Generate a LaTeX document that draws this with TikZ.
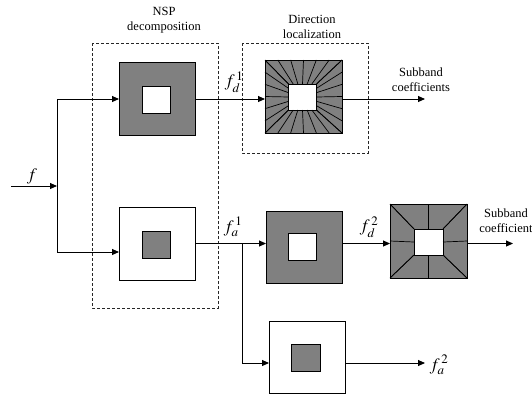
\documentclass[tikz,border=0pt]{standalone}
\usepackage{mathptmx}
\usepackage{fontspec}
\setmainfont{Liberation Serif}
\usetikzlibrary{arrows.meta,calc}

\tikzset{
  band/.style={draw, line width=0.9pt, outer sep=0pt, inner sep=0pt,
    minimum width=76pt, minimum height=73pt},
  hipass/.style={band, fill=gray},
  lopass/.style={band, fill=white},
  core/.style={draw, line width=0.9pt, outer sep=0pt, inner sep=0pt,
    minimum width=28pt, minimum height=27pt},
  frame/.style={draw=black!85, line width=0.8pt, dash pattern=on 3pt off 2pt},
  flow/.style={line width=0.9pt, -{Triangle[length=7pt,width=6pt]}},
  wedge/.style={line width=0.7pt},
  lbl/.style={font=\fontsize{12.5}{15}\selectfont, align=center, inner sep=0pt},
  sig/.style={font=\fontsize{17.5}{17.5}\selectfont, inner sep=1pt}
}

\begin{document}
\begin{tikzpicture}[x=1pt, y=-1pt]
  \useasboundingbox (0,0) rectangle (532,397);

  % dashed frames
  \draw[frame] (92,43) rectangle (218,308);
  \draw[frame] (242,43) rectangle (368,153);
  \node[lbl] (nsplbl) at (164,20) {NSP\\decomposition};
  \node[lbl] (dirlbl) at (312,27) {Direction\\localization};

  % first level
  \node[hipass] (nsphi) at (157,99) {};
  \node[core, fill=white] (nsphiin) at (156,100) {};
  \node[lopass] (nsplo) at (157,243.5) {};
  \node[core, fill=gray] (nsploin) at (156,244.5) {};

  % directional filter, 24 wedges
  \node[hipass, minimum width=77pt] (dira) at (303.5,96.5) {};
  \node[core, fill=white, minimum height=26pt] (dirain) at (302.5,97) {};
  \foreach \a/\b in {north west/north east, south west/south east,
                     north west/south west, north east/south east}
    \foreach \t in {0,0.1667,0.3333,0.5,0.6667,0.8333,1}
      \draw[wedge] ($(dira.\a)!\t!(dira.\b)$) -- ($(dirain.\a)!\t!(dirain.\b)$);

  % second level
  \node[hipass, minimum height=72pt] (hp2) at (304,247) {};
  \node[core, fill=white] (hp2in) at (302,247) {};
  \node[lopass, minimum height=72pt] (lp2) at (307,357) {};
  \node[core, fill=gray, minimum width=29pt] (lp2in) at (305.5,358) {};

  % directional filter, 8 wedges
  \node[hipass, minimum width=77pt, minimum height=74pt] (dirb) at (428.5,241) {};
  \node[core, fill=white, minimum width=29pt, minimum height=26pt] (dirbin) at (428.5,242) {};
  \foreach \a/\b in {north west/north east, south west/south east,
                     north west/south west, north east/south east}
    \foreach \t in {0,0.5,1}
      \draw[wedge] ($(dirb.\a)!\t!(dirb.\b)$) -- ($(dirbin.\a)!\t!(dirbin.\b)$);

  % connectors
  \coordinate (in) at (11,186);
  \coordinate (split) at (57,186);
  \coordinate (tap) at ($(nsplo.east)+(47,0)$);
  \coordinate (outa) at (425,99);
  \coordinate (outb) at (513,243.5);
  \coordinate (outc) at (425,363);

  \draw[flow] (in) -- (split);
  \draw[flow] (split) |- (nsphi.west);
  \draw[flow] (split) |- ([yshift=-8.5pt]nsplo.west);
  \draw[flow] (nsphi.east) -- (nsphi.east -| dira.west);
  \draw[flow] (dira.east |- outa) -- (outa);
  \draw[flow] (nsplo.east) -- (nsplo.east -| hp2.west);
  \draw[flow] (tap) |- ([yshift=-6pt]lp2.west);
  \draw[flow] (hp2.east |- tap) -- (dirb.west |- tap);
  \draw[flow] (dirb.east |- tap) -- (outb);
  \draw[flow] ([yshift=-6pt]lp2.east) -- (outc);

  % signal labels
  \node[sig] (f0) at (32,176) {$f$};
  \node[sig] (fd1) at (234,82) {$f_d^{\,1}$};
  \node[sig] (fa1) at (233,227) {$f_a^{\,1}$};
  \node[sig] (fd2) at (369,227) {$f_d^{\,2}$};
  \node[sig] (fa2) at (439,365) {$f_a^{\,2}$};
  \node[lbl] (suba) at (421,80) {Subband\\coefficients};
  \node[lbl] (subb) at (506,221) {Subband\\coefficient};
\end{tikzpicture}
\end{document}
